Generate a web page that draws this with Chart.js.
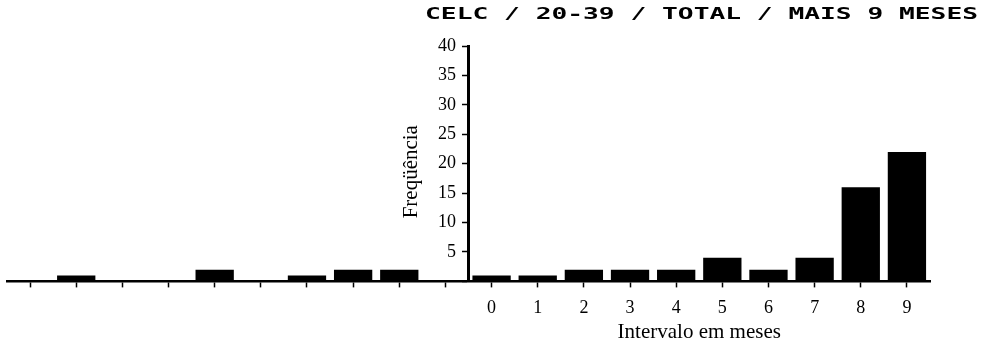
<!DOCTYPE html>
<html>
<head>
<meta charset="utf-8">
<script src="https://cdn.jsdelivr.net/npm/chart.js@4/dist/chart.umd.min.js"></script>
<style>
  html, body { margin: 0; padding: 0; background: #fff; }
  #wrap { width: 981px; height: 346px; }
</style>
</head>
<body>
<div id="wrap"><canvas id="freqChart"></canvas></div>
<script>
// values
const leftSlots = ['', '', '', '', '', '', '', '', '', ''];
const leftValues = [0, 1, 0, 0, 2, 0, 1, 2, 2, 0];
const monthLabels = ['0', '1', '2', '3', '4', '5', '6', '7', '8', '9'];
const monthValues = [1, 1, 2, 2, 2, 4, 2, 4, 16, 22];
const yTicks = [5, 10, 15, 20, 25, 30, 35, 40];

const chartTitle = 'CELC / 20-39 / TOTAL / MAIS 9 MESES';
const yTitle = 'Freqüência';
const xTitle = 'Intervalo em meses';

const serif = '"Liberation Serif", "DejaVu Serif", serif';

// title + axis titles drawn by hand, the scan places them oddly
const textPlugin = {
  id: 'scanText',
  afterDraw(chart) {
    const ctx = chart.ctx;
    const x = chart.scales.x;
    const y = chart.scales.y;
    ctx.save();
    ctx.fillStyle = '#000';

    // blocky dot-matrix title, stretched wide
    ctx.save();
    ctx.font = 'bold 16px "DejaVu Sans Mono", monospace';
    ctx.textAlign = 'right';
    ctx.textBaseline = 'middle';
    ctx.translate(978, 15);
    ctx.scale(1.64, 1);
    ctx.fillText(chartTitle, 0, 0);
    ctx.restore();

    // x title centred under the 0..9 labels
    const first = x.getPixelForValue(leftSlots.length);
    const last = x.getPixelForValue(leftSlots.length + monthLabels.length - 1);
    ctx.font = '21px ' + serif;
    ctx.textAlign = 'center';
    ctx.textBaseline = 'middle';
    ctx.fillText(xTitle, (first + last) / 2, 332);

    // y title
    const axisX = x.getPixelForValue(leftSlots.length - 0.5);
    ctx.translate(axisX - 57, (y.top + y.bottom) / 2 + 8);
    ctx.rotate(-Math.PI / 2);
    ctx.fillText(yTitle, 0, 0);
    ctx.restore();
  }
};

const ctx = document.getElementById('freqChart').getContext('2d');
new Chart(ctx, {
  type: 'bar',
  data: {
    labels: leftSlots.concat(monthLabels),
    datasets: [{
      label: 'Frequência',
      data: leftValues.concat(monthValues),
      backgroundColor: '#000',
      borderWidth: 0,
      categoryPercentage: 1,
      barPercentage: 0.83
    }]
  },
  options: {
    responsive: true,
    maintainAspectRatio: false,
    animation: false,
    layout: { padding: { top: 46, left: 7, right: 51, bottom: 17 } },
    plugins: {
      legend: { display: false },
      tooltip: { enabled: false }
    },
    scales: {
      x: {
        type: 'category',
        grid: {
          offset: false,
          drawOnChartArea: false,
          tickLength: 6,
          tickColor: '#000',
          tickWidth: 1.5
        },
        border: { color: '#000', width: 2.5 },
        ticks: {
          color: '#000',
          font: { family: serif, size: 18 },
          padding: 10,
          maxRotation: 0,
          autoSkip: false
        }
      },
      y: {
        position: { x: leftSlots.length - 0.5 },
        min: 0,
        max: 40,
        afterBuildTicks: axis => {
          axis.ticks = [0].concat(yTicks).map(v => ({ value: v }));
        },
        grid: {
          drawOnChartArea: false,
          tickLength: 5,
          tickColor: '#000',
          tickWidth: 1.5
        },
        border: { color: '#000', width: 3 },
        ticks: {
          color: '#000',
          font: { family: serif, size: 18 },
          // labels sit right on the axis when it is placed by value, so pad with spaces
          callback: v => (v === 0 ? '' : v + '\u2002\u2009')
        }
      }
    }
  },
  plugins: [textPlugin]
});
</script>
</body>
</html>
